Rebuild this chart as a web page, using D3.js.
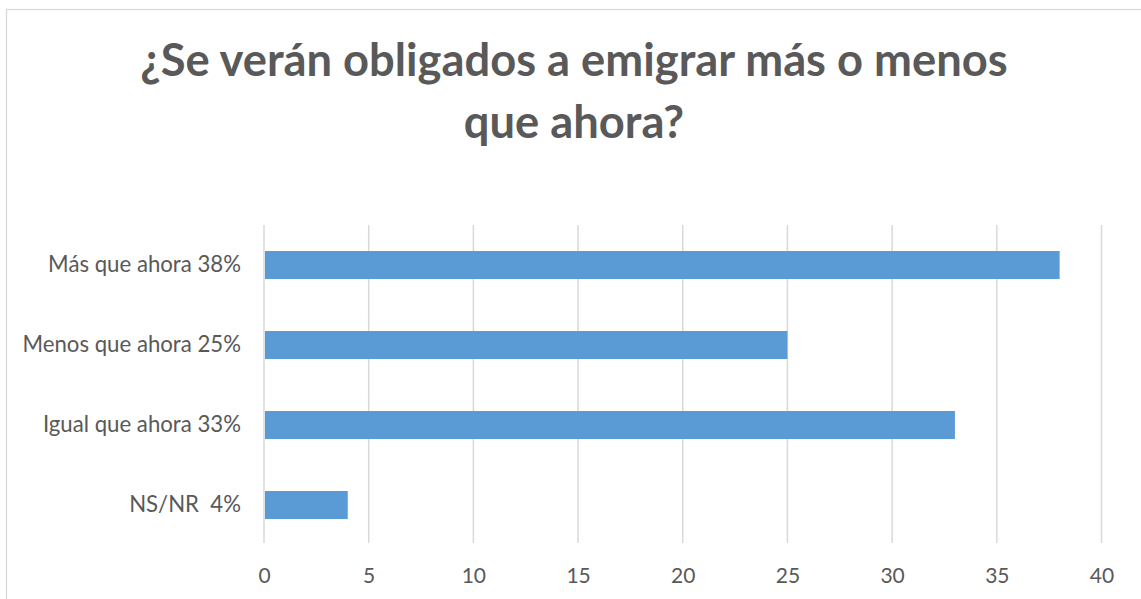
<!DOCTYPE html>
<html><head><meta charset="utf-8">
<script src="https://cdn.jsdelivr.net/npm/d3@7"></script>
<style>body{margin:0;background:#fff;}svg{display:block;}</style>
</head><body>
<script>
const categories = ["Más que ahora 38%", "Menos que ahora 25%", "Igual que ahora 33%", "NS/NR  4%"];
const values = [38, 25, 33, 4];
const xTicks = [0, 5, 10, 15, 20, 25, 30, 35, 40];
const titleLines = ["¿Se verán obligados a emigrar más o menos", "que ahora?"];

(function () {
const W = 1141, H = 599;
const svg = d3.select("body").append("svg").attr("width", W).attr("height", H);
svg.append("rect").attr("x", 6.5).attr("y", 9.5).attr("width", W + 10).attr("height", H + 10)
  .attr("fill", "#fff").attr("stroke", "#d9d9d9").attr("stroke-width", 1.3);

const pL = 264, pR = 1101.5, pT = 225, pB = 545;
const x = d3.scaleLinear().domain([0, 40]).range([pL, pR]);
const y = d3.scaleBand().domain(categories).range([pT, pB]).paddingInner(0.65).paddingOuter(0.325);

const font = "Lato, 'Open Sans', sans-serif";

svg.append("g").selectAll("line").data(xTicks).join("line")
  .attr("x1", d => x(d)).attr("x2", d => x(d)).attr("y1", pT).attr("y2", pB - 2)
  .attr("stroke", "#d9d9d9").attr("stroke-width", 1.5);

svg.append("g").selectAll("rect").data(values).join("rect")
  .attr("x", x(0) + 1).attr("y", (d, i) => y(categories[i]))
  .attr("width", d => x(d) - x(0) - 1).attr("height", y.bandwidth())
  .attr("fill", "#5b9bd5");

const xAxis = svg.append("g").attr("transform", `translate(0,${pB})`)
  .call(d3.axisBottom(x).tickValues(xTicks).tickSize(0).tickPadding(23));
xAxis.select(".domain").remove();
xAxis.selectAll("text").attr("font-family", font).attr("font-size", 21).attr("fill", "#595959");

const yAxis = svg.append("g").attr("transform", `translate(${pL},0)`)
  .call(d3.axisLeft(y).tickSize(0).tickPadding(23));
yAxis.select(".domain").remove();
yAxis.selectAll("text").attr("font-family", font).attr("font-size", 22.2).attr("fill", "#595959")
  .style("white-space", "pre");

svg.append("g").selectAll("text").data(titleLines).join("text")
  .attr("x", 574).attr("y", (d, i) => 76 + i * 62)
  .attr("text-anchor", "middle").attr("font-family", font).attr("font-weight", "bold")
  .attr("font-size", 45.3).attr("fill", "#595959").text(d => d);
})();
</script>
</body></html>
